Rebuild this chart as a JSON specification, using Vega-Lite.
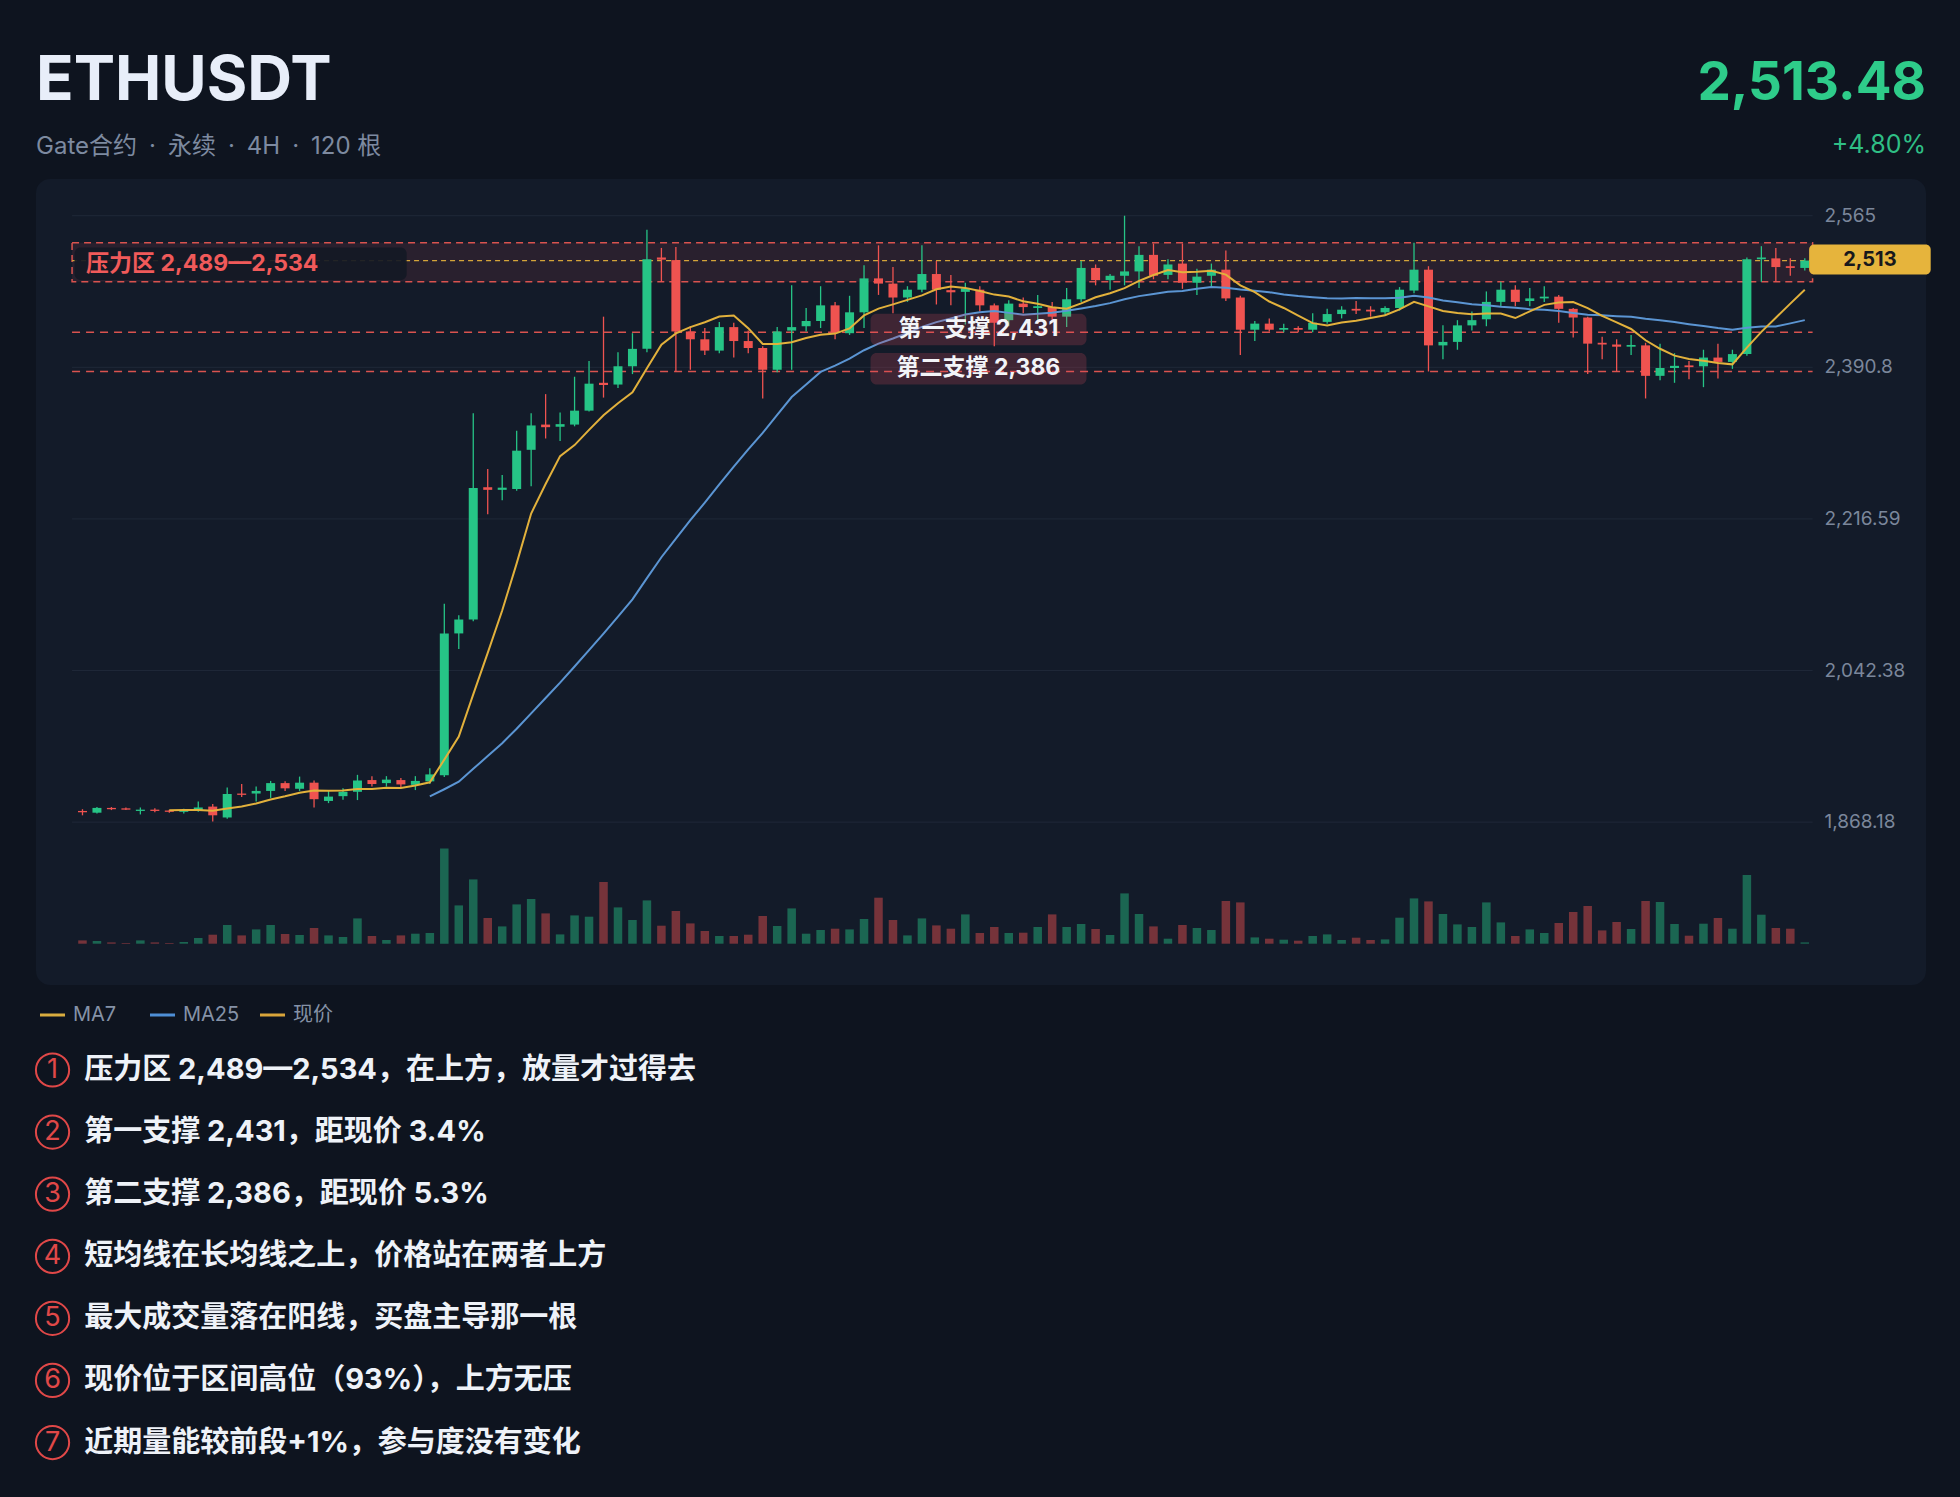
{
  "$schema": "https://vega.github.io/schema/vega-lite/v6.json",
  "background": "#0e141f",
  "padding": {"left": 31, "top": 30, "right": 40, "bottom": 60},
  "bounds": "flush",
  "spacing": 24,
  "config": {"view": {"stroke": null}, "font": "Inter, Noto Sans CJK SC, sans-serif"},
  "datasets": {
    "candles": [
      {"i":0,"o":1881,"h":1883,"l":1876,"c":1879.5,"v":3300},
      {"i":1,"o":1879,"h":1885.5,"l":1878,"c":1884.5,"v":2700},
      {"i":2,"o":1884.5,"h":1885.5,"l":1882,"c":1883,"v":1300},
      {"i":3,"o":1884,"h":1885,"l":1882,"c":1882.5,"v":700},
      {"i":4,"o":1881,"h":1885,"l":1877,"c":1882.5,"v":3300},
      {"i":5,"o":1882.5,"h":1884,"l":1879.5,"c":1881,"v":1300},
      {"i":6,"o":1881.5,"h":1882.5,"l":1879,"c":1880,"v":700},
      {"i":7,"o":1880,"h":1883.5,"l":1878,"c":1881.5,"v":1700},
      {"i":8,"o":1882,"h":1892,"l":1880,"c":1885,"v":5700},
      {"i":9,"o":1886,"h":1889,"l":1869,"c":1876,"v":9000},
      {"i":10,"o":1873.5,"h":1908,"l":1872,"c":1900.5,"v":18700},
      {"i":11,"o":1901,"h":1912,"l":1897,"c":1899.5,"v":8300},
      {"i":12,"o":1901,"h":1909,"l":1892,"c":1904,"v":14300},
      {"i":13,"o":1904,"h":1915.5,"l":1896,"c":1913,"v":18700},
      {"i":14,"o":1913,"h":1915,"l":1904,"c":1907,"v":9700},
      {"i":15,"o":1906.5,"h":1920.5,"l":1904,"c":1913.5,"v":8700},
      {"i":16,"o":1913.5,"h":1916,"l":1885,"c":1894.5,"v":15700},
      {"i":17,"o":1892.5,"h":1904,"l":1890,"c":1897.5,"v":8300},
      {"i":18,"o":1898,"h":1907,"l":1894,"c":1903,"v":6700},
      {"i":19,"o":1903,"h":1922.5,"l":1893.5,"c":1916,"v":25300},
      {"i":20,"o":1916.5,"h":1921,"l":1909,"c":1912,"v":7700},
      {"i":21,"o":1913,"h":1921,"l":1909,"c":1917,"v":3700},
      {"i":22,"o":1916.5,"h":1919,"l":1907.5,"c":1911.5,"v":8300},
      {"i":23,"o":1911,"h":1921,"l":1905,"c":1915.5,"v":10000},
      {"i":24,"o":1915,"h":1930,"l":1912,"c":1923,"v":10700},
      {"i":25,"o":1922,"h":2119,"l":1920,"c":2085,"v":95300},
      {"i":26,"o":2085,"h":2106,"l":2067,"c":2101,"v":38300},
      {"i":27,"o":2101,"h":2338,"l":2099,"c":2252,"v":64300},
      {"i":28,"o":2253,"h":2274,"l":2222,"c":2250,"v":25700},
      {"i":29,"o":2250,"h":2267,"l":2238,"c":2252.5,"v":17300},
      {"i":30,"o":2251,"h":2318,"l":2249,"c":2295,"v":39300},
      {"i":31,"o":2296,"h":2338,"l":2254,"c":2324,"v":44700},
      {"i":32,"o":2325,"h":2360,"l":2309,"c":2322,"v":30300},
      {"i":33,"o":2322.5,"h":2339,"l":2306,"c":2325.5,"v":9300},
      {"i":34,"o":2325,"h":2380,"l":2323,"c":2341,"v":28300},
      {"i":35,"o":2341,"h":2398,"l":2340,"c":2372,"v":27000},
      {"i":36,"o":2373,"h":2449,"l":2356,"c":2370.5,"v":61700},
      {"i":37,"o":2371,"h":2408,"l":2367,"c":2392,"v":36300},
      {"i":38,"o":2392,"h":2430,"l":2383,"c":2412,"v":23700},
      {"i":39,"o":2412,"h":2549,"l":2408,"c":2515,"v":43300},
      {"i":40,"o":2517,"h":2528,"l":2489,"c":2514.5,"v":18000},
      {"i":41,"o":2514,"h":2529,"l":2386,"c":2432,"v":32700},
      {"i":42,"o":2432,"h":2438,"l":2388,"c":2423,"v":20300},
      {"i":43,"o":2423,"h":2436,"l":2405,"c":2410,"v":12700},
      {"i":44,"o":2410,"h":2443,"l":2407,"c":2437,"v":7700},
      {"i":45,"o":2437,"h":2442,"l":2402,"c":2421,"v":7700},
      {"i":46,"o":2421,"h":2433,"l":2407,"c":2413,"v":9000},
      {"i":47,"o":2413,"h":2415,"l":2355,"c":2388,"v":27700},
      {"i":48,"o":2388,"h":2437,"l":2385,"c":2432,"v":17700},
      {"i":49,"o":2433,"h":2485,"l":2388,"c":2437,"v":35300},
      {"i":50,"o":2438,"h":2459,"l":2432,"c":2444,"v":10000},
      {"i":51,"o":2444,"h":2484,"l":2436,"c":2462,"v":13700},
      {"i":52,"o":2462,"h":2466,"l":2423,"c":2431,"v":15000},
      {"i":53,"o":2430,"h":2473,"l":2428,"c":2454,"v":14300},
      {"i":54,"o":2454,"h":2508,"l":2436,"c":2493,"v":24700},
      {"i":55,"o":2493,"h":2531,"l":2474,"c":2487,"v":46000},
      {"i":56,"o":2487,"h":2506,"l":2453,"c":2471,"v":23700},
      {"i":57,"o":2471,"h":2484,"l":2466,"c":2480,"v":8300},
      {"i":58,"o":2480,"h":2531,"l":2477,"c":2498,"v":25300},
      {"i":59,"o":2498,"h":2513,"l":2463,"c":2480,"v":18300},
      {"i":60,"o":2479.5,"h":2497,"l":2462,"c":2477,"v":15000},
      {"i":61,"o":2477.5,"h":2488,"l":2440,"c":2481.5,"v":29300},
      {"i":62,"o":2480,"h":2484,"l":2455,"c":2462,"v":10700},
      {"i":63,"o":2462,"h":2464,"l":2415,"c":2442,"v":16700},
      {"i":64,"o":2445,"h":2468,"l":2438,"c":2464,"v":10700},
      {"i":65,"o":2464,"h":2471,"l":2453,"c":2460,"v":11000},
      {"i":66,"o":2459,"h":2474,"l":2445,"c":2461,"v":16700},
      {"i":67,"o":2460,"h":2466,"l":2444,"c":2449,"v":29300},
      {"i":68,"o":2449,"h":2482,"l":2437,"c":2469,"v":16700},
      {"i":69,"o":2469,"h":2513,"l":2466,"c":2505,"v":19700},
      {"i":70,"o":2505,"h":2509,"l":2485,"c":2491,"v":14700},
      {"i":71,"o":2491,"h":2498,"l":2480,"c":2496,"v":8700},
      {"i":72,"o":2496,"h":2565,"l":2485,"c":2501,"v":50300},
      {"i":73,"o":2501,"h":2530,"l":2482,"c":2520,"v":29700},
      {"i":74,"o":2520,"h":2533,"l":2492,"c":2496,"v":17300},
      {"i":75,"o":2497,"h":2515,"l":2492,"c":2509,"v":5000},
      {"i":76,"o":2510,"h":2533,"l":2481,"c":2488,"v":18700},
      {"i":77,"o":2488,"h":2504,"l":2474,"c":2495,"v":15700},
      {"i":78,"o":2496,"h":2510,"l":2483,"c":2503,"v":13700},
      {"i":79,"o":2503,"h":2525,"l":2467,"c":2470,"v":42700},
      {"i":80,"o":2471,"h":2473,"l":2405,"c":2434,"v":41300},
      {"i":81,"o":2434,"h":2444,"l":2421,"c":2441,"v":6300},
      {"i":82,"o":2441,"h":2447,"l":2432,"c":2434,"v":5000},
      {"i":83,"o":2434,"h":2441,"l":2431,"c":2436,"v":4000},
      {"i":84,"o":2436,"h":2438,"l":2431,"c":2434,"v":3000},
      {"i":85,"o":2434,"h":2453,"l":2431,"c":2442,"v":7700},
      {"i":86,"o":2443,"h":2458,"l":2441,"c":2452,"v":9300},
      {"i":87,"o":2452,"h":2461,"l":2447,"c":2457,"v":3700},
      {"i":88,"o":2458,"h":2467,"l":2452,"c":2456,"v":6000},
      {"i":89,"o":2457,"h":2461,"l":2449,"c":2455,"v":3700},
      {"i":90,"o":2454,"h":2461,"l":2451,"c":2459,"v":4300},
      {"i":91,"o":2459,"h":2483,"l":2456,"c":2480,"v":26000},
      {"i":92,"o":2479,"h":2534,"l":2476,"c":2503,"v":45300},
      {"i":93,"o":2503,"h":2507,"l":2386,"c":2416,"v":42300},
      {"i":94,"o":2416,"h":2439,"l":2400,"c":2420,"v":29700},
      {"i":95,"o":2420,"h":2445,"l":2411,"c":2439,"v":19300},
      {"i":96,"o":2439,"h":2455,"l":2433,"c":2445,"v":16700},
      {"i":97,"o":2446,"h":2478,"l":2438,"c":2466,"v":41300},
      {"i":98,"o":2466,"h":2489,"l":2461,"c":2480,"v":21300},
      {"i":99,"o":2480,"h":2485,"l":2461,"c":2466,"v":7700},
      {"i":100,"o":2467,"h":2482,"l":2461,"c":2470,"v":14300},
      {"i":101,"o":2470,"h":2484,"l":2466,"c":2472,"v":10700},
      {"i":102,"o":2472,"h":2474,"l":2442,"c":2458,"v":20700},
      {"i":103,"o":2458,"h":2459,"l":2425,"c":2448,"v":31700},
      {"i":104,"o":2448,"h":2449,"l":2383,"c":2418,"v":37700},
      {"i":105,"o":2419,"h":2426,"l":2400,"c":2417,"v":13300},
      {"i":106,"o":2417,"h":2423,"l":2386,"c":2414.5,"v":21700},
      {"i":107,"o":2414.5,"h":2428,"l":2405,"c":2416.5,"v":14700},
      {"i":108,"o":2416,"h":2419,"l":2355,"c":2381,"v":42700},
      {"i":109,"o":2381,"h":2418,"l":2376,"c":2390,"v":41700},
      {"i":110,"o":2390,"h":2407,"l":2373,"c":2392.5,"v":19700},
      {"i":111,"o":2393,"h":2398,"l":2377,"c":2391,"v":8000},
      {"i":112,"o":2392,"h":2411,"l":2368,"c":2402,"v":20000},
      {"i":113,"o":2402,"h":2418,"l":2378,"c":2397,"v":25700},
      {"i":114,"o":2397,"h":2411,"l":2389,"c":2406,"v":15000},
      {"i":115,"o":2406,"h":2517,"l":2404,"c":2515,"v":68700},
      {"i":116,"o":2515,"h":2530,"l":2489,"c":2517,"v":29000},
      {"i":117,"o":2516,"h":2528,"l":2489,"c":2506,"v":15700},
      {"i":118,"o":2507,"h":2516,"l":2496,"c":2505,"v":15000},
      {"i":119,"o":2505,"h":2516,"l":2502,"c":2513.48,"v":1300}
    ],
    "ticks": [{"p":1868.18},{"p":2042.38},{"p":2216.59},{"p":2390.8},{"p":2565}],
    "zone": [{"lo":2489,"hi":2534,"label":"压力区 2,489—2,534"}],
    "supports": [{"p":2431,"label":"第一支撑 2,431"},{"p":2386,"label":"第二支撑 2,386"}],
    "last": [{"price":2513.48,"tag":"2,513"}],
    "legend": [{"name":"MA7"},{"name":"MA25"},{"name":"现价"}],
    "notes": [
      {"n":1,"text":"压力区 2,489—2,534，在上方，放量才过得去"},
      {"n":2,"text":"第一支撑 2,431，距现价 3.4%"},
      {"n":3,"text":"第二支撑 2,386，距现价 5.3%"},
      {"n":4,"text":"短均线在长均线之上，价格站在两者上方"},
      {"n":5,"text":"最大成交量落在阳线，买盘主导那一根"},
      {"n":6,"text":"现价位于区间高位（93%），上方无压"},
      {"n":7,"text":"近期量能较前段+1%，参与度没有变化"}
    ]
  },
  "vconcat": [
    {
      "width": 1890, "height": 125,
      "view": {"fill": "#0e141f", "stroke": null},
      "layer": [
        {"data": {"values": [{"t": "ETHUSDT"}]},
         "mark": {"type": "text", "align": "left", "baseline": "alphabetic", "fontSize": 62, "fontWeight": 700, "color": "#e8eef9"},
         "encoding": {"text": {"field": "t"},
           "x": {"datum": 0, "type": "quantitative", "scale": {"domain": [0, 1]}, "axis": null},
           "y": {"datum": 70, "type": "quantitative", "scale": {"domain": [0, 125], "reverse": true}, "axis": null}}},
        {"data": {"values": [{"t": "Gate合约\u2002·\u2002永续\u2002·\u20024H\u2002·\u2002120 根"}]},
         "mark": {"type": "text", "align": "left", "baseline": "alphabetic", "fontSize": 24, "color": "#7d8aa0"},
         "encoding": {"text": {"field": "t"},
           "x": {"datum": 0, "type": "quantitative", "scale": {"domain": [0, 1]}, "axis": null},
           "y": {"datum": 124, "type": "quantitative", "scale": {"domain": [0, 125], "reverse": true}, "axis": null}}},
        {"data": {"values": [{"t": "2,513.48"}]},
         "mark": {"type": "text", "align": "right", "baseline": "alphabetic", "fontSize": 53, "fontWeight": 700, "color": "#2ecc8a"},
         "encoding": {"text": {"field": "t"},
           "x": {"datum": 1, "type": "quantitative", "scale": {"domain": [0, 1]}, "axis": null},
           "y": {"datum": 70, "type": "quantitative", "scale": {"domain": [0, 125], "reverse": true}, "axis": null}}},
        {"data": {"values": [{"t": "+4.80%"}]},
         "mark": {"type": "text", "align": "right", "baseline": "alphabetic", "fontSize": 25, "color": "#2fbf85"},
         "encoding": {"text": {"field": "t"},
           "x": {"datum": 1, "type": "quantitative", "scale": {"domain": [0, 1]}, "axis": null},
           "y": {"datum": 123, "type": "quantitative", "scale": {"domain": [0, 125], "reverse": true}, "axis": null}}}
      ]
    },
    {
      "width": 1890, "height": 806,
      "view": {"fill": "#131b29", "stroke": null, "cornerRadius": 14},
      "resolve": {"scale": {"y": "independent"}},
      "layer": [
        {"data": {"name": "candles"},
         "mark": {"type": "bar", "size": 8.5, "opacity": 0.45},
         "encoding": {
           "x": {"field": "i", "type": "quantitative", "scale": {"domain": [-2.866, 127.03], "nice": false, "zero": false}, "axis": null},
           "y": {"field": "v", "type": "quantitative", "scale": {"domain": [-41300, 764700], "nice": false, "zero": false}, "axis": null},
           "y2": {"datum": 0},
           "color": {"condition": {"test": "datum.c >= datum.o", "value": "#26c486"}, "value": "#ef5350"}}},
        {"layer": [
          {"data": {"name": "ticks"},
           "mark": {"type": "rule", "color": "#1f2838", "strokeWidth": 1},
           "encoding": {
             "x": {"datum": -0.72, "type": "quantitative", "scale": {"domain": [-2.866, 127.03], "nice": false, "zero": false}, "axis": null},
             "x2": {"datum": 119.54},
             "y": {"field": "p", "type": "quantitative", "scale": {"domain": [1681.0, 2607.2], "nice": false, "zero": false}, "axis": null}}},
          {"data": {"name": "ticks"},
           "mark": {"type": "text", "align": "left", "baseline": "middle", "fontSize": 19, "color": "#7b879b"},
           "encoding": {
             "x": {"datum": 120.36, "type": "quantitative"},
             "y": {"field": "p", "type": "quantitative"},
             "text": {"field": "p", "type": "quantitative", "format": ",.6~r"}}},
          {"data": {"name": "zone"},
           "mark": {"type": "rect", "fill": "#e5485d", "fillOpacity": 0.11, "stroke": "#d9534f", "strokeWidth": 1.5, "strokeDash": [7, 5]},
           "encoding": {
             "x": {"datum": -0.72, "type": "quantitative"}, "x2": {"datum": 119.54},
             "y": {"field": "lo", "type": "quantitative"}, "y2": {"field": "hi"}}},
          {"data": {"name": "supports"},
           "mark": {"type": "rule", "color": "#d9534f", "strokeWidth": 1.5, "strokeDash": [8, 6]},
           "encoding": {
             "x": {"datum": -0.72, "type": "quantitative"}, "x2": {"datum": 119.54},
             "y": {"field": "p", "type": "quantitative"}}},
          {"data": {"name": "last"},
           "mark": {"type": "rule", "color": "#d4a43a", "strokeWidth": 1.3, "strokeDash": [5, 4]},
           "encoding": {
             "x": {"datum": -0.72, "type": "quantitative"}, "x2": {"datum": 119.54},
             "y": {"field": "price", "type": "quantitative"}}},
          {"data": {"name": "candles"},
           "mark": {"type": "rule", "strokeWidth": 1.3},
           "encoding": {
             "x": {"field": "i", "type": "quantitative"},
             "y": {"field": "l", "type": "quantitative"}, "y2": {"field": "h"},
             "color": {"condition": {"test": "datum.c >= datum.o", "value": "#26c486"}, "value": "#ef5350"}}},
          {"data": {"name": "candles"},
           "mark": {"type": "bar", "size": 9},
           "encoding": {
             "x": {"field": "i", "type": "quantitative"},
             "y": {"field": "o", "type": "quantitative"}, "y2": {"field": "c"},
             "color": {"condition": {"test": "datum.c >= datum.o", "value": "#26c486"}, "value": "#ef5350"}}},
          {"data": {"name": "candles"},
           "transform": [
             {"window": [{"op": "mean", "field": "c", "as": "ma"}, {"op": "count", "as": "n"}], "frame": [-24, 0], "sort": [{"field": "i"}]},
             {"filter": "datum.n >= 25"}],
           "mark": {"type": "line", "color": "#5b95d3", "strokeWidth": 2},
           "encoding": {"x": {"field": "i", "type": "quantitative"}, "y": {"field": "ma", "type": "quantitative"}}},
          {"data": {"name": "candles"},
           "transform": [
             {"window": [{"op": "mean", "field": "c", "as": "ma"}, {"op": "count", "as": "n"}], "frame": [-6, 0], "sort": [{"field": "i"}]},
             {"filter": "datum.n >= 7"}],
           "mark": {"type": "line", "color": "#e2b13c", "strokeWidth": 2},
           "encoding": {"x": {"field": "i", "type": "quantitative"}, "y": {"field": "ma", "type": "quantitative"}}},
          {"data": {"name": "zone"},
           "mark": {"type": "rect", "fill": "#141925", "opacity": 0.92, "cornerRadius": 6},
           "encoding": {
             "x": {"datum": -0.55, "type": "quantitative"}, "x2": {"datum": 22.4},
             "y": {"datum": 2491.1, "type": "quantitative"}, "y2": {"datum": 2528.5}}},
          {"data": {"name": "zone"},
           "mark": {"type": "text", "align": "left", "baseline": "middle", "fontSize": 23, "fontWeight": 700, "color": "#f05a5a"},
           "encoding": {
             "x": {"datum": 0.25, "type": "quantitative"},
             "y": {"datum": 2509.5, "type": "quantitative"},
             "text": {"field": "label"}}},
          {"data": {"name": "supports"},
           "mark": {"type": "rect", "fill": "#e0485a", "opacity": 0.22, "cornerRadius": 6, "yOffset": 13, "y2Offset": -18.5},
           "encoding": {
             "x": {"datum": 54.45, "type": "quantitative"}, "x2": {"datum": 69.37},
             "y": {"field": "p", "type": "quantitative"}, "y2": {"field": "p"}}},
          {"data": {"name": "supports"},
           "mark": {"type": "text", "align": "center", "baseline": "middle", "fontSize": 23, "fontWeight": 700, "color": "#f2f4f8", "dy": -3.5},
           "encoding": {
             "x": {"datum": 61.9, "type": "quantitative"},
             "y": {"field": "p", "type": "quantitative"},
             "text": {"field": "label"}}},
          {"data": {"name": "last"},
           "mark": {"type": "rect", "fill": "#e6b43c", "cornerRadius": 5, "yOffset": 14, "y2Offset": -16},
           "encoding": {
             "x": {"datum": 119.3, "type": "quantitative"}, "x2": {"datum": 127.7},
             "y": {"field": "price", "type": "quantitative"}, "y2": {"field": "price"}}},
          {"data": {"name": "last"},
           "mark": {"type": "text", "align": "center", "baseline": "middle", "fontSize": 20, "fontWeight": 700, "color": "#17181c", "dy": -1},
           "encoding": {
             "x": {"datum": 123.5, "type": "quantitative"},
             "y": {"field": "price", "type": "quantitative"},
             "text": {"field": "tag"}}}
        ]}
      ]
    },
    {
      "width": 1890, "height": 12,
      "data": {"name": "legend"},
      "layer": [
        {"mark": {"type": "rule", "strokeWidth": 3, "x2Offset": 25},
         "encoding": {
           "x": {"field": "name", "type": "nominal", "scale": {"type": "point", "domain": ["MA7", "MA25", "现价"], "range": [4, 224], "padding": 0}, "axis": null},
           "x2": {"field": "name"},
           "y": {"datum": 0, "type": "quantitative", "scale": {"domain": [-1, 1]}, "axis": null},
           "color": {"field": "name", "type": "nominal", "scale": {"domain": ["MA7", "MA25", "现价"], "range": ["#d9ad3f", "#4e8fd6", "#d9a53a"]}, "legend": null}}},
        {"mark": {"type": "text", "align": "left", "baseline": "middle", "fontSize": 20, "color": "#8592a7", "dx": 33},
         "encoding": {
           "x": {"field": "name", "type": "nominal"},
           "y": {"datum": 0, "type": "quantitative"},
           "text": {"field": "name"}}}
      ]
    },
    {
      "width": 1890, "height": 420,
      "data": {"name": "notes"},
      "layer": [
        {"mark": {"type": "point", "shape": "circle", "filled": false, "stroke": "#e04848", "strokeWidth": 2, "size": 1104, "opacity": 1},
         "encoding": {
           "x": {"datum": 17.5, "type": "quantitative", "scale": {"domain": [0, 1890]}, "axis": null},
           "y": {"field": "n", "type": "quantitative", "scale": {"domain": [0.5974, 7.361], "reverse": true, "nice": false, "zero": false}, "axis": null}}},
        {"mark": {"type": "text", "align": "center", "baseline": "middle", "fontSize": 27, "color": "#e04848"},
         "encoding": {
           "x": {"datum": 17.5, "type": "quantitative"},
           "y": {"field": "n", "type": "quantitative"},
           "text": {"field": "n"}}},
        {"mark": {"type": "text", "align": "left", "baseline": "middle", "fontSize": 29, "fontWeight": 700, "color": "#eef2f8"},
         "encoding": {
           "x": {"datum": 51, "type": "quantitative"},
           "y": {"field": "n", "type": "quantitative"},
           "text": {"field": "text"}}}
      ]
    }
  ]
}
